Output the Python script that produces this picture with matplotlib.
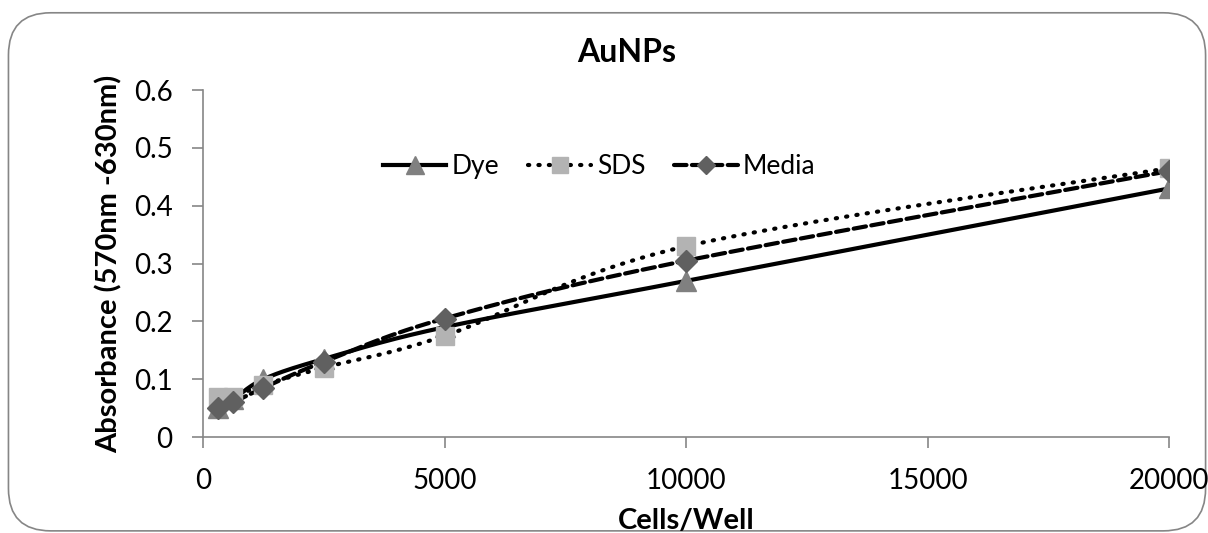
import numpy as np
import matplotlib
matplotlib.use('Agg')
import matplotlib.pyplot as plt
from matplotlib.patches import FancyBboxPatch

cells = [312.5, 625, 1250, 2500, 5000, 10000, 20000]
dye = [0.050, 0.065, 0.100, 0.135, 0.190, 0.270, 0.430]
sds = [0.070, 0.070, 0.090, 0.120, 0.175, 0.330, 0.465]
media = [0.050, 0.060, 0.085, 0.130, 0.205, 0.305, 0.460]

plt.rcParams['font.family'] = ['Lato', 'DejaVu Sans']


def smooth(x, y, n=30):
    # excel-like smoothed line (cardinal spline through the points)
    x = np.asarray(x, float); y = np.asarray(y, float)
    px = np.concatenate([[x[0]], x, [x[-1]]])
    py = np.concatenate([[y[0]], y, [y[-1]]])
    xs, ys = [], []
    for i in range(1, len(px) - 2):
        t = np.linspace(0, 1, n)
        mx0 = (px[i + 1] - px[i - 1]) / 6; my0 = (py[i + 1] - py[i - 1]) / 6
        mx1 = (px[i + 2] - px[i]) / 6; my1 = (py[i + 2] - py[i]) / 6
        c = [(1 - t) ** 3, 3 * (1 - t) ** 2 * t, 3 * (1 - t) * t ** 2, t ** 3]
        xs.append(c[0] * px[i] + c[1] * (px[i] + mx0) + c[2] * (px[i + 1] - mx1) + c[3] * px[i + 1])
        ys.append(c[0] * py[i] + c[1] * (py[i] + my0) + c[2] * (py[i + 1] - my1) + c[3] * py[i + 1])
    return np.concatenate(xs), np.concatenate(ys)


fig = plt.figure(figsize=(12.08, 5.33), dpi=100)
border = FancyBboxPatch((0.007, 0.004), 0.991, 0.972, boxstyle='round,pad=0,rounding_size=0.035',
                        transform=fig.transFigure, fc='white', ec='#868686', lw=1.2,
                        mutation_aspect=1208 / 533, zorder=-5)
fig.patches.append(border)
ax = fig.add_axes([0.168, 0.18, 0.8, 0.651])
ax.patch.set_alpha(0)

dotted = (0, (0.3, 2.2))
dashed = (0, (3, 1.3))
series = [('Dye', dye, '-', '^', '#808080', 15),
          ('SDS', sds, dotted, 's', '#b3b3b3', 13),
          ('Media', media, dashed, 'D', '#606060', 11)]
handles = []
for name, vals, ls, mk, col, ms in series:
    sx, sy = smooth(cells, vals)
    ax.plot(sx, sy, color='black', lw=3, ls=ls, dash_capstyle='round', zorder=3)
    ax.plot(cells, vals, ls='none', marker=mk, color=col, ms=ms, mec=col, zorder=4)
    h, = ax.plot([], [], color='black', lw=3, ls=ls, marker=mk, mfc=col, mec=col, ms=ms * 0.85,
                 dash_capstyle='round', label=name)
    handles.append(h)

ax.set_xlim(0, 20000)
ax.set_ylim(0, 0.6)
ax.set_xticks([0, 5000, 10000, 15000, 20000])
ax.set_yticks([0, 0.1, 0.2, 0.3, 0.4, 0.5, 0.6])
ax.set_yticklabels(['0', '0.1', '0.2', '0.3', '0.4', '0.5', '0.6'])
for s in ['top', 'right']:
    ax.spines[s].set_visible(False)
for s in ['left', 'bottom']:
    ax.spines[s].set_color('#868686')
    ax.spines[s].set_linewidth(1.2)
ax.tick_params(axis='both', colors='#868686', labelcolor='black', labelsize=20, length=8, width=1.2,
               direction='out', pad=14)
ax.set_xlabel('Cells/Well', fontsize=21, fontweight='bold', labelpad=10)
ax.set_ylabel('Absorbance (570nm -630nm)', fontsize=21, fontweight='bold', labelpad=8)
fig.text(0.519, 0.902, 'AuNPs', fontsize=23, fontweight='bold', ha='center', va='center')
ax.legend(handles=handles, loc='center', bbox_to_anchor=(0.41, 0.78), ncol=3, frameon=False,
          fontsize=19, handlelength=2.4, handletextpad=0.2, columnspacing=1.1)

fig.savefig('out.png', dpi=100)
